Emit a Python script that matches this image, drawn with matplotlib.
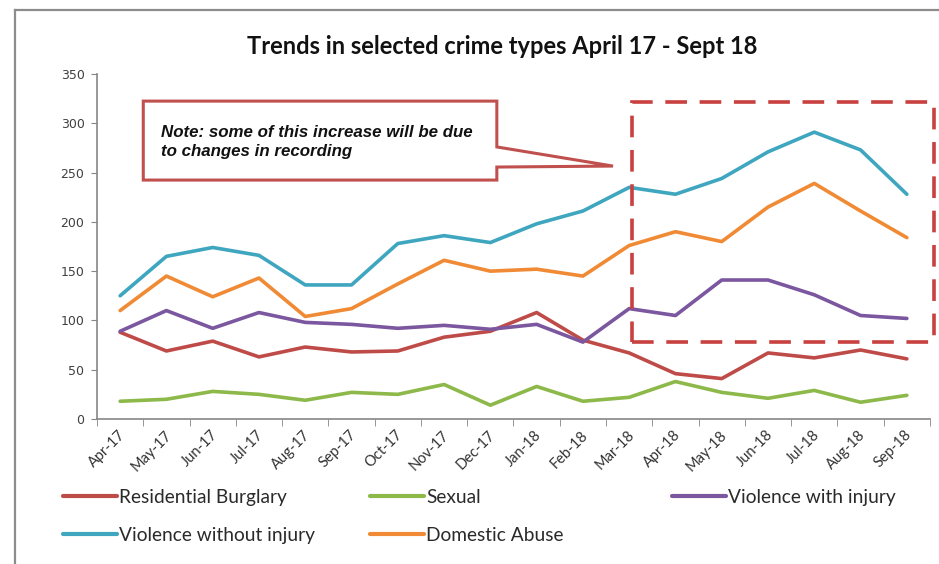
"""
Trends in selected crime types, April 17 - Sept 18
"""
import matplotlib
matplotlib.use('Agg')
import matplotlib.pyplot as plt
from matplotlib.lines import Line2D
from matplotlib.patches import Polygon, Rectangle

months = ['Apr-17', 'May-17', 'Jun-17', 'Jul-17', 'Aug-17', 'Sep-17',
          'Oct-17', 'Nov-17', 'Dec-17', 'Jan-18', 'Feb-18', 'Mar-18',
          'Apr-18', 'May-18', 'Jun-18', 'Jul-18', 'Aug-18', 'Sep-18']

residential_burglary = [88, 69, 79, 63, 73, 68, 69, 83, 89, 108, 80, 67,
                        46, 41, 67, 62, 70, 61]
sexual = [18, 20, 28, 25, 19, 27, 25, 35, 14, 33, 18, 22,
          38, 27, 21, 29, 17, 24]
violence_with_injury = [89, 110, 92, 108, 98, 96, 92, 95, 91, 96, 78, 112,
                        105, 141, 141, 126, 105, 102]
violence_without_injury = [125, 165, 174, 166, 136, 136, 178, 186, 179, 198,
                           211, 235, 228, 244, 271, 291, 273, 228]
domestic_abuse = [110, 145, 124, 143, 104, 112, 137, 161, 150, 152, 145, 176,
                  190, 180, 215, 239, 211, 184]

series_names = ['Residential Burglary', 'Sexual', 'Violence with injury',
                'Violence without injury', 'Domestic Abuse']
series_values = [residential_burglary, sexual, violence_with_injury,
                 violence_without_injury, domestic_abuse]
series_colors = ['#BE4B48', '#8DB84A', '#7B579F', '#3FA6BF', '#F08A34']

LEGEND_SIZE = 13.8
fig = plt.figure(figsize=(9.39, 5.64), dpi=100)
ax = fig.add_axes([0.1033, 0.2571, 0.8871, 0.6117])

x = list(range(len(months)))
for name, vals, col in zip(series_names, series_values, series_colors):
    ax.plot(x, vals, color=col, linewidth=2.6, label=name,
            solid_joinstyle='round', solid_capstyle='round')

ax.set_xlim(-0.5, len(months) - 0.5)
ax.set_ylim(0, 350)
ax.set_yticks(range(0, 351, 50))
ax.tick_params(axis='y', direction='out', length=4, color='#868686',
               labelsize=9, labelcolor='#404040', pad=5)

#excel style: tick marks between categories, labels on the categories
ax.set_xticks(x)
ax.set_xticklabels([])
ax.set_xticks([i - 0.5 for i in range(len(months) + 1)], minor=True)
ax.tick_params(axis='x', which='major', length=0)
ax.tick_params(axis='x', which='minor', direction='out', length=5, color='#868686')
for i, m in enumerate(months):
    ax.text(i + 0.06, -14, m, rotation=45, ha='right', va='center',
            rotation_mode='anchor', fontsize=10.5, family='Lato', color='#333333')

for side in ['top', 'right']:
    ax.spines[side].set_visible(False)
for side in ['left', 'bottom']:
    ax.spines[side].set_color('#868686')
    ax.spines[side].set_linewidth(1.2)

#title
fig.text(0.535, 0.917, 'Trends in selected crime types April 17 - Sept 18',
         ha='center', va='center', fontsize=17, fontweight='bold',
         family='Lato', color='#111111')

#callout box with pointer (data coordinates)
callout = [(0.50, 322.5), (8.14, 322.5), (8.14, 276), (10.65, 256.6),
           (8.14, 255.6), (8.14, 242.4), (0.50, 242.4)]
ax.add_patch(Polygon(callout, closed=True, facecolor='white',
                     edgecolor='#C0504D', linewidth=2.2, clip_on=False,
                     zorder=5))
ax.text(0.88, 281, 'Note: some of this increase will be due\nto changes in recording',
        ha='left', va='center', fontsize=12.2, fontweight='bold',
        fontstyle='italic', family='Liberation Sans', color='#111111',
        linespacing=1.4, zorder=6)

#dashed highlight of the last six months
ax.add_patch(Rectangle((11.06, 78.6), 17.58 - 11.06, 321.5 - 78.6,
                       fill=False, edgecolor='#C8403F', linewidth=2.6,
                       linestyle=(0, (6, 3.5)), clip_on=False, zorder=4))

#legend, laid out in three columns like the original
fs_px = LEGEND_SIZE * 100 / 72
col_x = [63, 370, 672]
col_items = [[0, 3], [1, 4], [2]]
for cx, items in zip(col_x, col_items):
    handles = [Line2D([], [], color=series_colors[k], linewidth=3.0,
                      solid_capstyle='round') for k in items]
    labels = [series_names[k] for k in items]
    leg = fig.legend(handles, labels, loc='upper left',
                     bbox_to_anchor=(cx / 939, 1 - 489 / 564),
                     frameon=False, borderpad=0, borderaxespad=0,
                     handlelength=54 / fs_px, handletextpad=0.12,
                     labelspacing=(40 - fs_px) / fs_px,
                     prop={'family': 'Lato', 'size': LEGEND_SIZE})
    for t in leg.get_texts():
        t.set_color('#2A2A2A')

#grey frame of the chart area
fig.add_artist(Line2D([15 / 939, 15 / 939], [0, 1 - 10 / 564],
                      color='#8C8C8C', linewidth=1.6))
fig.add_artist(Line2D([15 / 939, 1], [1 - 10 / 564, 1 - 10 / 564],
                      color='#8C8C8C', linewidth=1.6))

fig.savefig('out.png', dpi=100)
